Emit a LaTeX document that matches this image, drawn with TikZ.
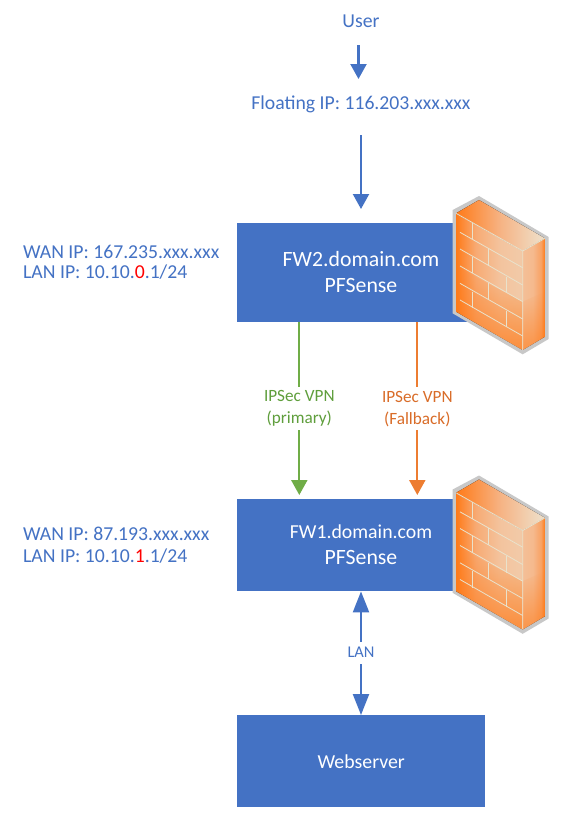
\documentclass[tikz,border=0pt]{standalone}
\usepackage{fontspec}
\setmainfont{Carlito}
\usetikzlibrary{arrows.meta,fadings}
\definecolor{boxblue}{HTML}{4472C4}
\definecolor{vpngreen}{HTML}{70AD47}
\definecolor{vpnorange}{HTML}{ED7D31}
\definecolor{greentext}{HTML}{5F9E3C}
\definecolor{orangetext}{HTML}{D96C28}
\definecolor{brick}{HTML}{E9E2CC}
\definecolor{fwgray}{HTML}{C8C8C8}
\definecolor{fwdeep}{HTML}{FF7A18}
\definecolor{fwmid}{HTML}{F6B384}
\definecolor{fwpale}{HTML}{EFDCC4}
\pgfdeclarehorizontalshading{fwfront}{100bp}{
  color(0bp)=(fwdeep); color(25bp)=(fwdeep); color(40bp)=(fwmid!85!fwdeep);
  color(58bp)=(fwmid!60!fwpale); color(72bp)=(fwmid!45!fwpale); color(100bp)=(fwmid)}
\pgfdeclarehorizontalshading{fwside}{100bp}{
  color(0bp)=(fwmid!70!fwpale); color(25bp)=(fwmid!70!fwpale); color(48bp)=(fwmid!85!fwpale);
  color(66bp)=(fwmid!70!fwdeep); color(75bp)=(fwdeep); color(100bp)=(fwdeep)}
\pgfdeclarehorizontalshading{fwtop}{100bp}{
  color(0bp)=(fwdeep); color(25bp)=(fwdeep); color(50bp)=(fwmid); color(72bp)=(fwpale); color(100bp)=(fwpale)}
\tikzset{
  x=1pt,y=-1pt,
  netbox/.style={fill=boxblue,draw=none,minimum width=248pt,anchor=north west,inner sep=0pt,text=white,align=center},
  bluetext/.style={text=boxblue,font=\fontsize{19.7}{23}\selectfont,inner sep=0pt},
  iptext/.style={bluetext,anchor=west,align=left},
  vpnlabel/.style={fill=white,inner sep=1pt,align=center,font=\fontsize{17.2}{22}\selectfont,minimum height=43pt},
  bluearrow/.style={draw=boxblue,line width=2.2pt,-{Triangle[width=16pt,length=15pt]}},
  greenarrow/.style={draw=vpngreen,line width=2.2pt,-{Triangle[width=16pt,length=15pt]},shorten >=4pt},
  orangearrow/.style={draw=vpnorange,line width=2.2pt,-{Triangle[width=16pt,length=15pt]},shorten >=4pt},
  lanarrow/.style={draw=boxblue,line width=2.2pt,{Triangle[width=16pt,length=21pt]}-{Triangle[width=16pt,length=21pt]}},
  brickline/.style={draw=brick,line width=0.8pt},
}
\newcommand{\firewall}[2]{%
  \begin{scope}[shift={(#1,#2)},x=0.3333pt,y=-0.3333pt]
    \fill[fwgray] (68,45) -- (147,3) -- (356,126) -- (356,432) -- (278,478) -- (68,355) -- cycle;
    \fill[shading=fwfront] (78,55) -- (278,168) -- (278,465) -- (78,350) -- cycle;
    \fill[fwdeep,opacity=.75,path fading=north] (78,215) -- (278,320) -- (278,465) -- (78,350) -- cycle;
    \fill[shading=fwtop] (78,55) -- (147,15) -- (345,130) -- (278,168) -- cycle;
    \fill[shading=fwside] (278,168) -- (345,130) -- (345,425) -- (278,465) -- cycle;
    \fill[fwdeep,opacity=.6,path fading=north] (278,320) -- (345,290) -- (345,425) -- (278,465) -- cycle;
    \draw[brickline] (78,55) -- (278,168) -- (278,465);
    \draw[brickline] (278,168) -- (345,130);
    \draw[brickline] (90,112) -- (278,218) (90,162) -- (278,270) (90,213) -- (278,320)
      (90,265) -- (278,372) (90,315) -- (278,423);
    \draw[brickline] (127,83) -- (127,132) (175,160) -- (175,212) (127,185) -- (127,235)
      (230,245) -- (230,295) (175,265) -- (175,315) (127,290) -- (127,340) (230,347) -- (230,397);
  \end{scope}%
}
\begin{document}
\begin{tikzpicture}
\useasboundingbox (0,0) rectangle (586,839);
\fill[white] (0,0) rectangle (586,839);

\node[netbox,minimum height=99pt] (fw2) at (237,223) {};
\node[netbox,minimum height=92pt] (fw1) at (237,499) {};
\node[netbox,minimum height=92pt,font=\fontsize{19.8}{23}\selectfont] (web) at (237,715) {Webserver};

\node[text=white,font=\fontsize{21.8}{26}\selectfont,align=center,inner sep=0pt] (fw2t) at (361,272) {FW2.domain.com\\PFSense};
\node[text=white,font=\fontsize{19.8}{25}\selectfont,inner sep=0pt] (fw1t) at (361,532) {FW1.domain.com};
\node[text=white,font=\fontsize{21.8}{25}\selectfont,inner sep=0pt] (fw1p) at (361,557) {PFSense};

\firewall{430}{195}
\firewall{430}{474.5}

\node[bluetext] (user) at (361,21) {User};
\node[bluetext] (float) at (361,104.5) {Floating IP: 116.203.xxx.xxx};
\coordinate (ua) at (358.5,45);
\coordinate (ub) at (358.5,79);
\coordinate (fa) at (361,135);
\coordinate (fb) at (361,209);
\draw[bluearrow] (ua) -- (ub);
\draw[bluearrow] (fa) -- (fb);

\node[iptext] (wan2) at (23,251.5) {WAN IP: 167.235.xxx.xxx};
\node[iptext] (lan2) at (23,272.5) {LAN IP: 10.10.\textcolor{red}{0}.1/24};
\node[iptext] (wan1) at (23,533.5) {WAN IP: 87.193.xxx.xxx};
\node[iptext] (lan1) at (23,556.5) {LAN IP: 10.10.\textcolor{red}{1}.1/24};

\coordinate (gx) at (299.3,0);
\coordinate (ox) at (417.3,0);
\coordinate (lx) at (361,0);
\draw[greenarrow] (fw2.south -| gx) -- (fw1.north -| gx);
\draw[orangearrow] (fw2.south -| ox) -- (fw1.north -| ox);
\draw[lanarrow] (fw1.south -| lx) -- (web.north -| lx);

\node[vpnlabel,text=greentext] (lg) at (299.3,408.7) {IPSec VPN\\(primary)};
\node[vpnlabel,text=orangetext] (lo) at (417.3,408.7) {IPSec VPN\\(Fallback)};
\node[fill=white,inner sep=2pt,text=boxblue,font=\fontsize{16.4}{18}\selectfont,minimum height=22pt] (ll) at (361,652.5) {LAN};
\end{tikzpicture}
\end{document}
